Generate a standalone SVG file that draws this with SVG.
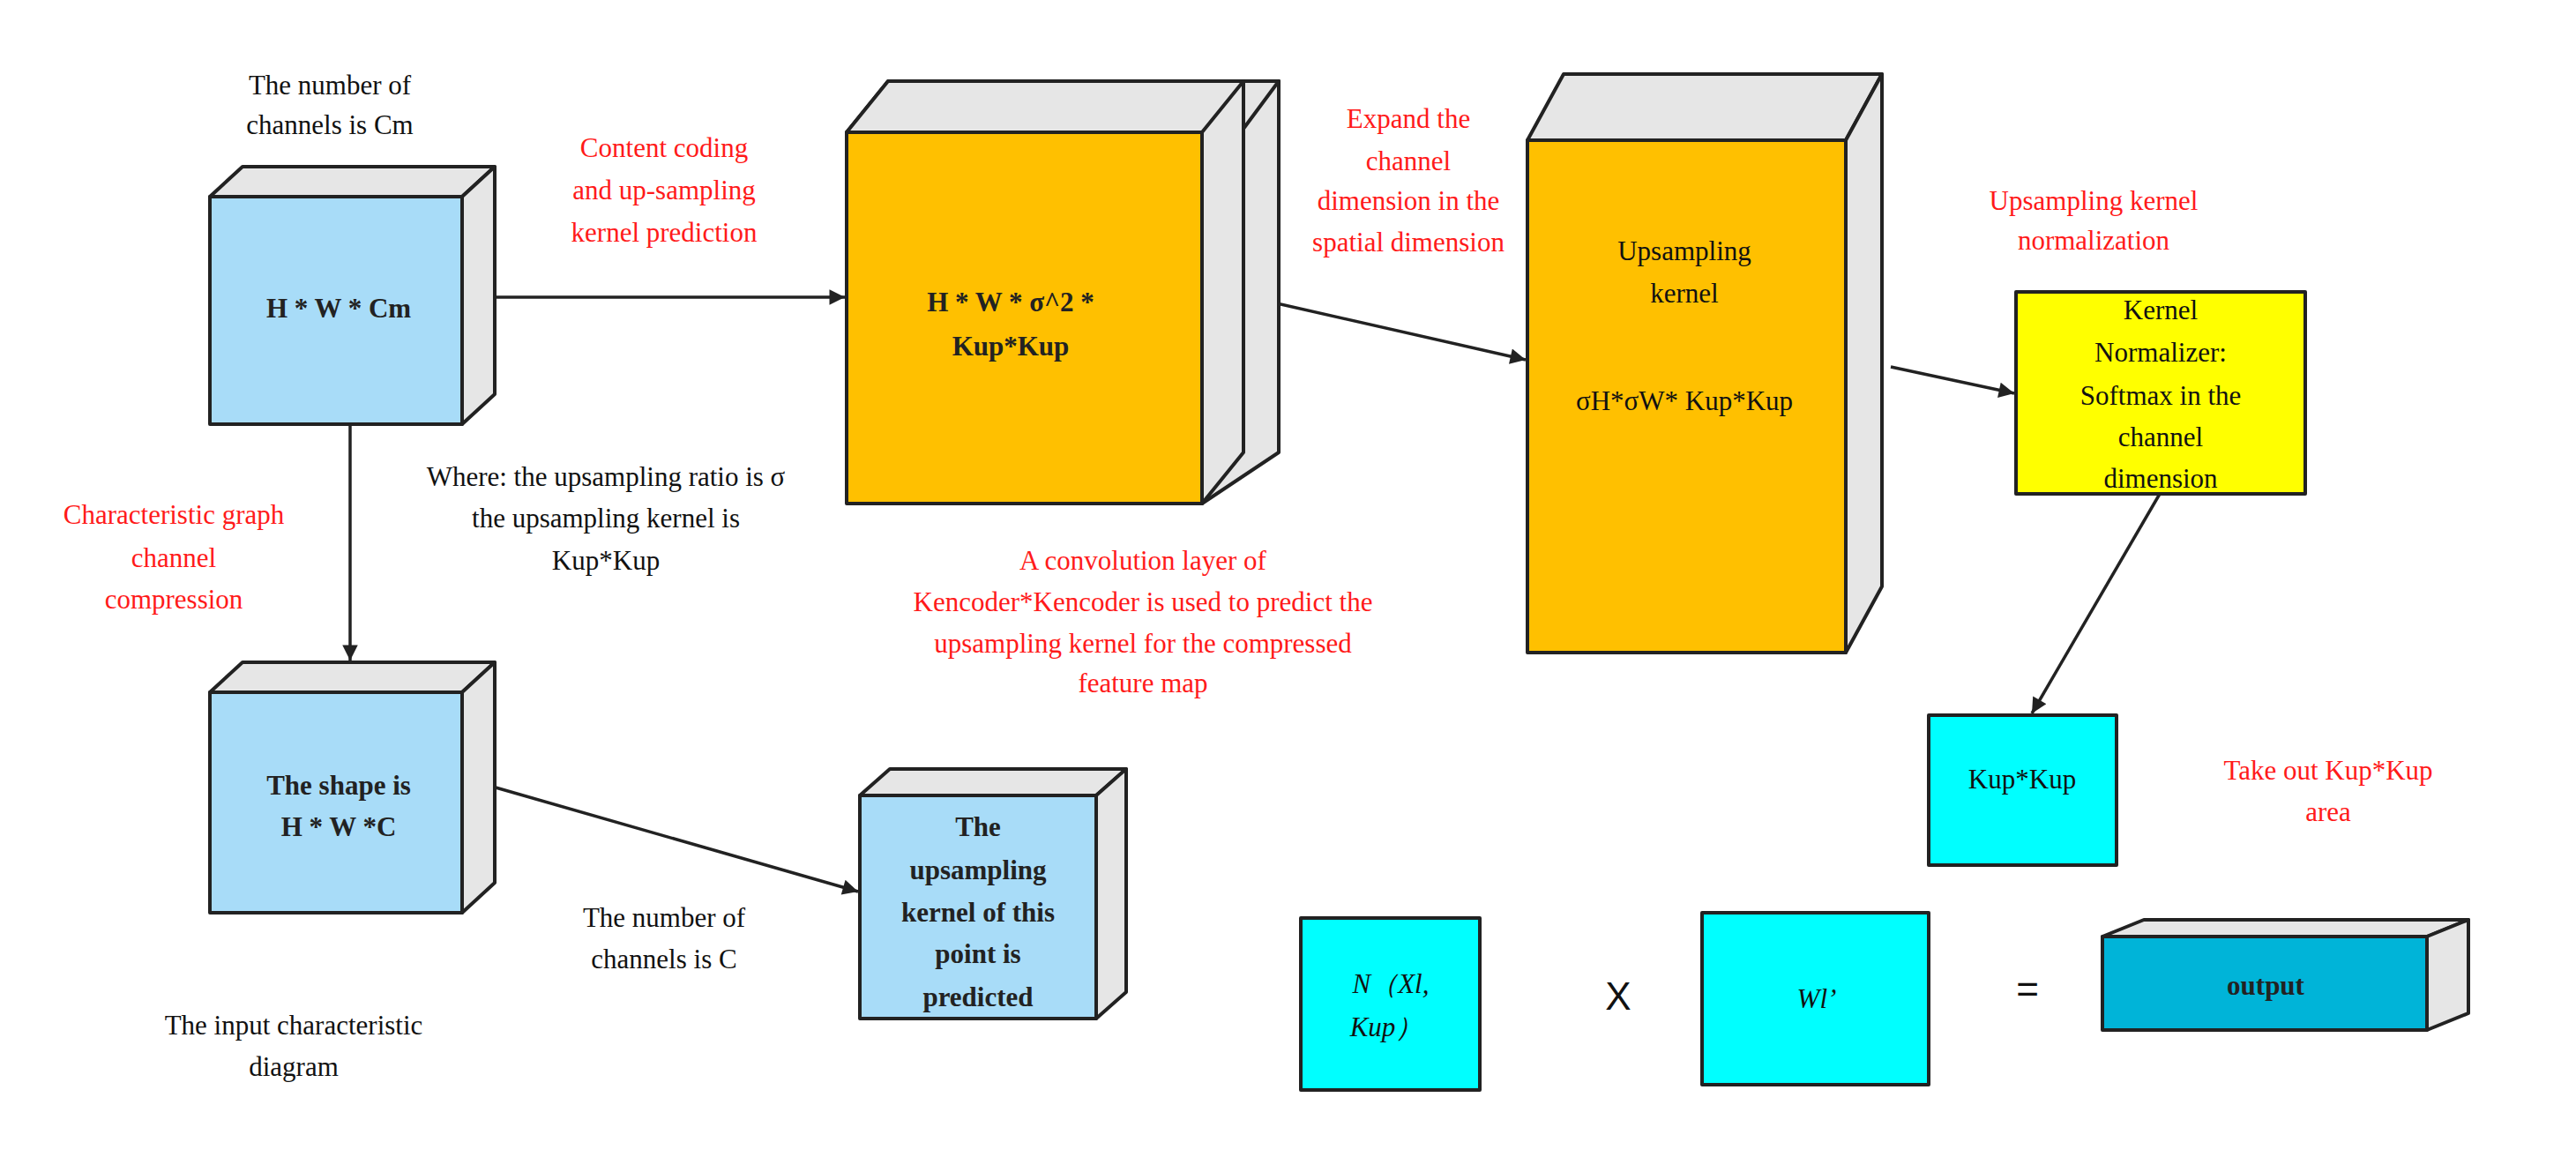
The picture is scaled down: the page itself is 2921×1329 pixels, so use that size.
<svg xmlns="http://www.w3.org/2000/svg" width="2921" height="1329" viewBox="0 0 2921 1329">
<defs>
<style>
text{font-family:"Liberation Serif","Times New Roman",serif;font-size:31px;text-anchor:middle}
.r{fill:#ff1a1a}
.k{fill:#111}
.b{font-weight:bold;fill:#222}
.f{stroke:#222;stroke-width:4;stroke-linejoin:round}
.side{fill:#e6e6e6;stroke:#222;stroke-width:4;stroke-linejoin:round}
.c{stroke:#222;stroke-width:3.5;fill:none}
</style>
<marker id="a" viewBox="0 0 10 10" refX="10" refY="5" markerWidth="6" markerHeight="5" orient="auto" markerUnits="strokeWidth"><path d="M0,0L10,5L0,10z" fill="#222"/></marker>
</defs>
<rect width="2921" height="1329" fill="#fff"/>
<g id="connectors">
<line class="c" x1="562" y1="337" x2="958" y2="337" marker-end="url(#a)"/>
<line class="c" x1="1417" y1="337" x2="1730" y2="408" marker-end="url(#a)"/>
<line class="c" x1="397" y1="481" x2="397" y2="749" marker-end="url(#a)"/>
<line class="c" x1="562" y1="893" x2="973" y2="1011" marker-end="url(#a)"/>
<line class="c" x1="2144" y1="416" x2="2284" y2="446" marker-end="url(#a)"/>
<line class="c" x1="2449" y1="560" x2="2304" y2="809" marker-end="url(#a)"/>
</g>
<g id="box1">
<path class="side" d="M238,223L275,189L561,189L524,223z"/>
<path class="side" d="M524,223L561,189L561,447L524,481z"/>
<rect class="f" x="238" y="223" width="286" height="258" fill="#a8dcf8"/>
<text class="b" x="384" y="360">H * W * Cm</text>
</g>
<g id="box2">
<path class="side" d="M960,150L1007,92L1450,92L1363,150z"/>
<path class="side" d="M1363,150L1450,92L1450,513L1363,571z"/>
<path class="side" d="M960,150L1007,92L1450,92L1407,150z"/>
<path class="side" d="M1363,150L1410,92L1410,513L1363,571z"/>
<rect class="f" x="960" y="150" width="403" height="421" fill="#ffc000"/>
<text class="b" x="1146" y="353">H * W * σ^2 *</text>
<text class="b" x="1146" y="403">Kup*Kup</text>
</g>
<g id="box3">
<path class="side" d="M1732,159L1773,84L2134,84L2093,159z"/>
<path class="side" d="M2093,159L2134,84L2134,665L2093,740z"/>
<rect class="f" x="1732" y="159" width="361" height="581" fill="#ffc000"/>
<text class="k" x="1910" y="295">Upsampling</text>
<text class="k" x="1910" y="343">kernel</text>
<text class="k" x="1910" y="465">σH*σW* Kup*Kup</text>
</g>
<g id="box4">
<path class="side" d="M238,785L275,751L561,751L524,785z"/>
<path class="side" d="M524,785L561,751L561,1001L524,1035z"/>
<rect class="f" x="238" y="785" width="286" height="250" fill="#a8dcf8"/>
<text class="b" x="384" y="901">The shape is</text>
<text class="b" x="384" y="948">H * W *C</text>
</g>
<g id="box5">
<path class="side" d="M975,902L1009,872L1277,872L1243,902z"/>
<path class="side" d="M1243,902L1277,872L1277,1125L1243,1155z"/>
<rect class="f" x="975" y="902" width="268" height="253" fill="#a8dcf8"/>
<text class="b" x="1109" y="948">The</text>
<text class="b" x="1109" y="997">upsampling</text>
<text class="b" x="1109" y="1045">kernel of this</text>
<text class="b" x="1109" y="1092">point is</text>
<text class="b" x="1109" y="1141">predicted</text>
</g>
<g id="normalizer">
<rect class="f" x="2286" y="331" width="328" height="229" fill="#ffff00"/>
<text class="k" x="2450" y="362">Kernel</text>
<text class="k" x="2450" y="410">Normalizer:</text>
<text class="k" x="2450" y="459">Softmax in the</text>
<text class="k" x="2450" y="506">channel</text>
<text class="k" x="2450" y="553">dimension</text>
</g>
<g id="kupkup">
<rect class="f" x="2187" y="811" width="213" height="170" fill="#00ffff" stroke="#3a1010"/>
<text class="k" x="2293" y="894">Kup*Kup</text>
</g>
<g id="nbox">
<rect class="f" x="1475" y="1041" width="203" height="195" fill="#00ffff" stroke="#3a1010"/>
<text class="k" x="1577" y="1126" font-style="italic">N（Xl,</text>
<text class="k" x="1572" y="1175" font-style="italic">Kup）</text>
</g>
<g id="wbox">
<rect class="f" x="1930" y="1035" width="257" height="195" fill="#00ffff" stroke="#3a1010"/>
<text class="k" x="2060" y="1143" font-style="italic">Wl’</text>
</g>
<g id="output">
<path class="side" d="M2384,1062L2431,1043L2799,1043L2752,1062z"/>
<path class="side" d="M2752,1062L2799,1043L2799,1149L2752,1168z"/>
<rect class="f" x="2384" y="1062" width="368" height="106" fill="#00b4d8"/>
<text class="b" x="2569" y="1128">output</text>
</g>
<g id="labels">
<text class="k" x="374" y="107">The number of</text>
<text class="k" x="374" y="152">channels is Cm</text>
<text class="r" x="753" y="178">Content coding</text>
<text class="r" x="753" y="226">and up-sampling</text>
<text class="r" x="753" y="274">kernel prediction</text>
<text class="r" x="1597" y="145">Expand the</text>
<text class="r" x="1597" y="193">channel</text>
<text class="r" x="1597" y="238">dimension in the</text>
<text class="r" x="1597" y="285">spatial dimension</text>
<text class="r" x="2374" y="238">Upsampling kernel</text>
<text class="r" x="2374" y="283">normalization</text>
<text class="k" x="687" y="551">Where: the upsampling ratio is σ</text>
<text class="k" x="687" y="598">the upsampling kernel is</text>
<text class="k" x="687" y="646">Kup*Kup</text>
<text class="r" x="197" y="594">Characteristic graph</text>
<text class="r" x="197" y="643">channel</text>
<text class="r" x="197" y="690">compression</text>
<text class="r" x="1296" y="646">A convolution layer of</text>
<text class="r" x="1296" y="693">Kencoder*Kencoder is used to predict the</text>
<text class="r" x="1296" y="740">upsampling kernel for the compressed</text>
<text class="r" x="1296" y="785">feature map</text>
<text class="k" x="753" y="1051">The number of</text>
<text class="k" x="753" y="1098">channels is C</text>
<text class="k" x="333" y="1173">The input characteristic</text>
<text class="k" x="333" y="1220">diagram</text>
<text class="r" x="2640" y="884">Take out Kup*Kup</text>
<text class="r" x="2640" y="931">area</text>
<text class="k" x="1835" y="1145" style="font-family:'Liberation Sans',Arial,sans-serif;font-size:44px">X</text>
<text class="k" x="2299" y="1137" style="font-family:'Liberation Sans',Arial,sans-serif;font-size:44px">=</text>
</g>
</svg>
